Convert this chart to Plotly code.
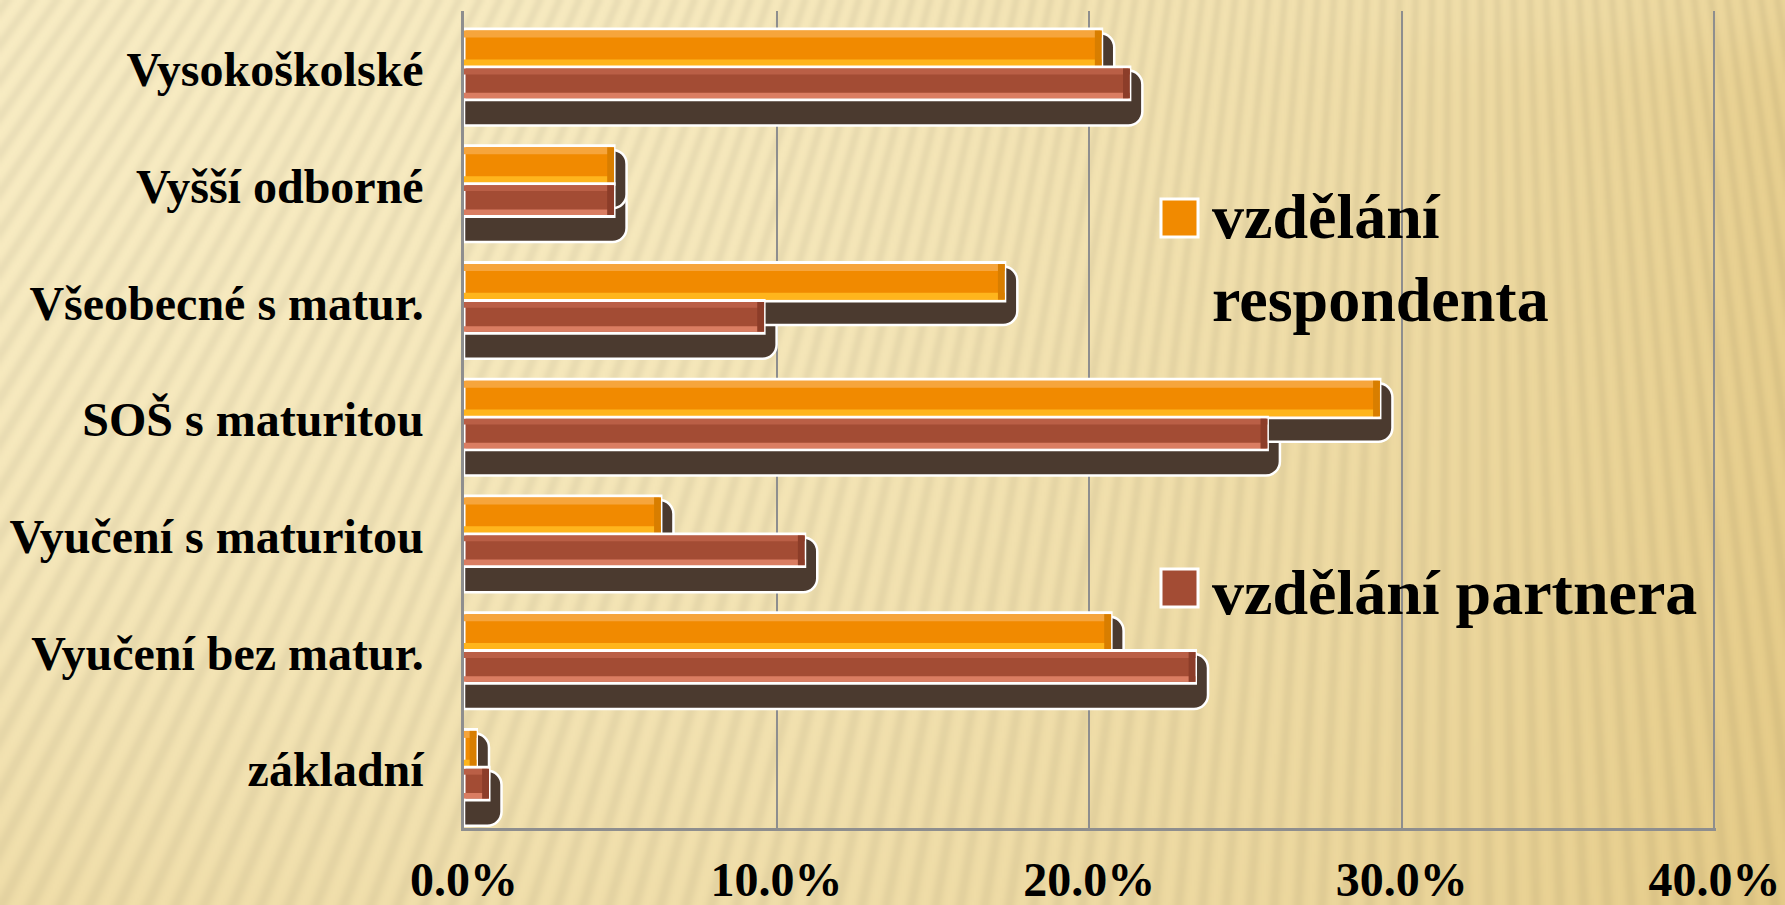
import base64
import struct
import zlib

import numpy as np
import plotly.graph_objects as go

# ---------------- data ----------------
categories = [
    "Vysokoškolské",
    "Vyšší odborné",
    "Všeobecné s matur.",
    "SOŠ s maturitou",
    "Vyučení s maturitou",
    "Vyučení bez matur.",
    "základní",
]
respondent = [20.4, 4.8, 17.3, 29.3, 6.3, 20.7, 0.4]
partner = [21.3, 4.8, 9.6, 25.7, 10.9, 23.4, 0.8]
series_names = ["vzdělání<br>respondenta", "vzdělání partnera"]
tick_values = [0, 10, 20, 30, 40]
tick_labels = [f"{v:.1f}%" for v in tick_values]

# ---------------- figure geometry / styles ----------------
W, H = 1785, 905
ML, MR, MT, MB = 464, 69, 11, 77
PW, PH = W - ML - MR, H - MT - MB

FONT = "Liberation Serif"
ORANGE = "#F18A00"
RED = "#A34C34"
SHADOW = "#4B3A2F"
GRID = "#8E8E8E"
SHADOW_SHIFT = 0.4  # horizontal shadow extension, in % units
BEVEL = 0.22        # width of the darker bar-end facet, in % units


# ---------------- background texture (generated PNG) ----------------
def make_background(w, h):
    yy, xx = np.mgrid[0:h, 0:w].astype(float)
    fx, fy = xx / w, yy / h
    vx, vy = 0.82 * w, -2.2 * h
    theta = np.arctan2(xx - vx, yy - vy)
    r = np.hypot(xx - vx, yy - vy)
    period = 10.5 / r.mean()
    s = 0.5 + 0.5 * np.cos(2 * np.pi * theta / period)
    s = s ** 1.5
    t = 0.12 + 0.62 * fx ** 2.4 + 0.32 * fy ** 2 * (1 - fx) + 0.12 * fy * fx
    t -= 0.10 * np.exp(-((fy - 0.0) / 0.06) ** 2) * np.clip((fx - 0.6) * 3, 0, 1)
    t = np.clip(t, 0, 1)
    light = np.array([251, 241, 204], float)
    dark = np.array([226, 197, 124], float)
    col = light * (1 - t[..., None]) + dark * t[..., None]
    col *= (1 - 0.05 * s)[..., None]
    return np.clip(col, 0, 255).astype(np.uint8)


def png_data_uri(arr):
    h, w, _ = arr.shape
    raw = np.concatenate([np.zeros((h, 1), np.uint8), arr.reshape(h, w * 3)], axis=1).tobytes()

    def chunk(tag, data):
        return (struct.pack(">I", len(data)) + tag + data
                + struct.pack(">I", zlib.crc32(tag + data) & 0xFFFFFFFF))

    ihdr = struct.pack(">IIBBBBB", w, h, 8, 2, 0, 0, 0)
    png = (b"\x89PNG\r\n\x1a\n" + chunk(b"IHDR", ihdr)
           + chunk(b"IDAT", zlib.compress(raw, 6)) + chunk(b"IEND", b""))
    return "data:image/png;base64," + base64.b64encode(png).decode()


bg_uri = png_data_uri(make_background(W // 2, H // 2))

# ---------------- traces ----------------
fig = go.Figure()


def add_bar(values, offset, width, color, line_w=0, radius=0, base=None):
    fig.add_trace(go.Bar(
        y=categories, x=values, base=base, orientation="h",
        offset=offset, width=width,
        marker=dict(color=color, cornerradius=radius,
                    line=dict(color="white", width=line_w)),
        showlegend=False, hoverinfo="skip",
    ))


def add_bevel(values, offset, width, color):
    bw = [min(BEVEL, v) for v in values]
    add_bar(bw, offset, width, color, base=[v - b for v, b in zip(values, bw)])


shadow_r = [v + SHADOW_SHIFT for v in partner]
shadow_o = [v + SHADOW_SHIFT for v in respondent]

add_bar(shadow_r, 0.01, 0.47, SHADOW, 2.5, 14)
add_bar(shadow_o, -0.31, 0.50, SHADOW, 2.5, 14)

add_bar(respondent, -0.345, 0.33, ORANGE, 3)
add_bar(respondent, -0.332, 0.06, "#F6A53C")
add_bar(respondent, -0.085, 0.058, "#FFB51C")
add_bevel(respondent, -0.332, 0.305, "#D87E00")

add_bar(partner, -0.02, 0.28, RED, 3)
add_bar(partner, -0.007, 0.05, "#BA5F46")
add_bar(partner, 0.2, 0.048, "#DA7D62")
add_bevel(partner, -0.007, 0.255, "#8C3D29")


# ---------------- legend (drawn as annotations + squares) ----------------
def px_x(px):
    return (px - ML) / PW


def px_y(py):
    return (H - MB - py) / PH


legend_colors = [ORANGE, RED]
legend_centers = [(218, 258), (588, 592)]
shapes = []
annotations = []
for name, color, (sq_y, tx_y) in zip(series_names, legend_colors, legend_centers):
    shapes.append(dict(
        type="rect", xref="paper", yref="paper",
        x0=px_x(1161), x1=px_x(1198), y0=px_y(sq_y + 19), y1=px_y(sq_y - 19),
        fillcolor=color, line=dict(color="white", width=3), layer="above",
    ))
    annotations.append(dict(
        text=f"<b>{name}</b>", xref="paper", yref="paper", x=px_x(1210), y=px_y(tx_y),
        xanchor="left", yanchor="middle", align="left", showarrow=False,
        font=dict(family=FONT, size=64, color="black"),
    ))

fig.update_layout(
    width=W, height=H,
    autosize=False,
    margin=dict(l=ML, r=MR, t=MT, b=MB, pad=0, autoexpand=False),
    paper_bgcolor="#EFDCA4",
    plot_bgcolor="rgba(0,0,0,0)",
    barmode="overlay",
    font=dict(family=FONT, color="black"),
    images=[dict(
        source=bg_uri, xref="paper", yref="paper",
        x=-ML / PW, y=1 + MT / PH, sizex=W / PW, sizey=H / PH,
        xanchor="left", yanchor="top", sizing="stretch", layer="below",
    )],
    shapes=shapes,
    annotations=annotations,
    xaxis=dict(
        range=[0, 40.05], tickvals=tick_values, ticktext=tick_labels,
        showgrid=True, gridcolor=GRID, gridwidth=2,
        showline=True, linecolor=GRID, linewidth=2.5,
        zeroline=False, ticks="", automargin=False, ticklabelstandoff=8,
        tickfont=dict(family=FONT, size=48, color="black", weight="bold"),
    ),
    yaxis=dict(
        type="category", categoryorder="array", categoryarray=categories,
        range=[6.5, -0.5], showgrid=False,
        showline=True, linecolor=GRID, linewidth=2.5,
        zeroline=False, ticks="", automargin=False, ticklabelstandoff=28,
        tickfont=dict(family=FONT, size=48, color="black", weight="bold"),
    ),
)

fig.write_html(
    "out.html",
    config={"displayModeBar": False},
    post_script="document.body.style.margin='0';document.body.style.overflow='hidden';",
)
